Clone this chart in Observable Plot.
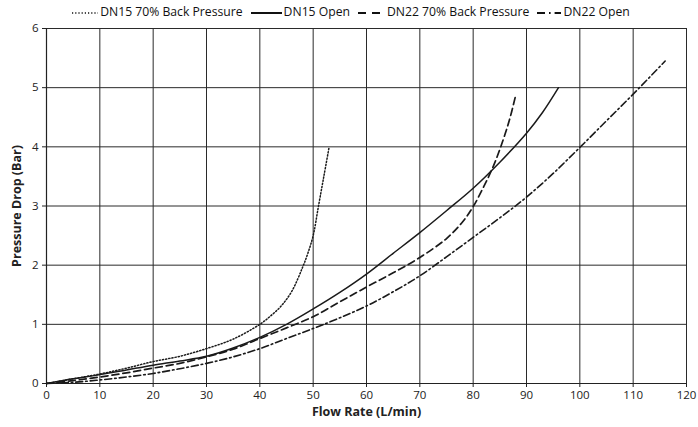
<!DOCTYPE html>
<html>
<head>
<meta charset="utf-8">
<script src="https://cdn.jsdelivr.net/npm/d3@7"></script>
<script src="https://cdn.jsdelivr.net/npm/@observablehq/plot@0.6"></script>
<style>
  html, body { margin: 0; padding: 0; background: #fff; }
  body { width: 698px; height: 427px; overflow: hidden; font-family: "Open Sans", "Noto Sans", sans-serif; color: #111; }
  #legend { height: 20px; display: flex; align-items: center; justify-content: center; font-size: 12.2px; padding-left: 4px; padding-top: 2px; box-sizing: border-box; }
  #legend .item { display: flex; align-items: center; margin: 0 4px; }
  #legend svg { margin-right: 2px; }
  #chart svg { display: block; }
</style>
</head>
<body>
<div id="legend"></div>
<div id="chart"></div>
<script>
// ---- Data ----
const seriesNames = ["DN15 70% Back Pressure", "DN15 Open", "DN22 70% Back Pressure", "DN22 Open"];

const dn15BpFlow = [0, 5, 10, 15, 20, 25, 30, 35, 40, 42, 44, 46, 48, 49, 50, 51, 52, 53];
const dn15BpDrop = [0, 0.08, 0.16, 0.26, 0.37, 0.46, 0.59, 0.75, 1.0, 1.14, 1.31, 1.56, 1.96, 2.2, 2.5, 3.0, 3.5, 4.0];

const dn15OpenFlow = [0, 5, 10, 15, 20, 25, 30, 35, 40, 45, 50, 55, 60, 65, 70, 75, 80, 85, 90, 93, 96];
const dn15OpenDrop = [0, 0.08, 0.15, 0.23, 0.31, 0.38, 0.46, 0.6, 0.78, 1.0, 1.26, 1.54, 1.85, 2.2, 2.55, 2.92, 3.3, 3.74, 4.23, 4.58, 5.0];

const dn22BpFlow = [0, 5, 10, 15, 20, 25, 30, 35, 40, 45, 50, 55, 60, 65, 70, 75, 78, 80, 82, 84, 86, 87, 88];
const dn22BpDrop = [0, 0.05, 0.11, 0.18, 0.26, 0.34, 0.45, 0.58, 0.76, 0.94, 1.13, 1.38, 1.63, 1.87, 2.13, 2.45, 2.73, 2.99, 3.33, 3.72, 4.22, 4.52, 4.88];

const dn22OpenFlow = [0, 5, 10, 15, 20, 25, 30, 35, 40, 45, 50, 55, 60, 65, 70, 75, 80, 85, 90, 95, 100, 105, 110, 116];
const dn22OpenDrop = [0, 0.02, 0.06, 0.11, 0.17, 0.25, 0.34, 0.45, 0.59, 0.76, 0.93, 1.11, 1.31, 1.55, 1.82, 2.14, 2.47, 2.8, 3.15, 3.55, 3.99, 4.44, 4.89, 5.45];

const xTicks = [0, 10, 20, 30, 40, 50, 60, 70, 80, 90, 100, 110, 120];
const yTicks = [0, 1, 2, 3, 4, 5, 6];

// ---- Styles per series ----
const styles = [
  { dash: "1.2,2", width: 1.5 },
  { dash: null, width: 1.5 },
  { dash: "7,4", width: 1.7 },
  { dash: "7,3,1.6,3", width: 1.6 }
];

function zip(flow, drop, name) {
  return flow.map((f, i) => ({ flow: f, drop: drop[i], series: name }));
}
const datasets = [
  zip(dn15BpFlow, dn15BpDrop, seriesNames[0]),
  zip(dn15OpenFlow, dn15OpenDrop, seriesNames[1]),
  zip(dn22BpFlow, dn22BpDrop, seriesNames[2]),
  zip(dn22OpenFlow, dn22OpenDrop, seriesNames[3])
];

// ---- Legend ----
const legend = document.getElementById("legend");
const sampleWidths = [26, 31, 27, 24];
const legendDash = ["1.2,2", null, "8,6", "8,4,1.6,4"];
seriesNames.forEach((name, i) => {
  const item = document.createElement("div");
  item.className = "item";
  const w = sampleWidths[i];
  const st = styles[i];
  item.innerHTML = `<svg width="${w}" height="10"><line x1="0" x2="${w}" y1="7" y2="7" stroke="#111" stroke-width="${st.width + (i === 0 ? 0.2 : 0.5)}" ${legendDash[i] ? `stroke-dasharray="${legendDash[i]}"` : ""}/></svg><span>${name}</span>`;
  legend.appendChild(item);
});

// ---- Chart ----
const marks = [
  Plot.gridX(xTicks, { stroke: "#2a2a2a", strokeOpacity: 1, strokeWidth: 1 }),
  Plot.gridY(yTicks, { stroke: "#2a2a2a", strokeOpacity: 1, strokeWidth: 1 }),
  Plot.axisX({ ticks: xTicks, tickSize: 4, tickPadding: 3, fontSize: 11.5, tickFormat: d => String(d), label: "Flow Rate (L/min)", labelAnchor: "center", labelOffset: 32, labelArrow: "none" }),
  Plot.axisY({ ticks: yTicks, tickSize: 4, tickPadding: 4, fontSize: 11.5, tickFormat: d => String(d), label: "Pressure Drop (Bar)", labelAnchor: "center", labelOffset: 34, labelArrow: "none" }),
  Plot.ruleY([0], { stroke: "#222", strokeWidth: 1.2 }),
  Plot.ruleX([0], { stroke: "#222", strokeWidth: 1.2 })
];
datasets.forEach((data, i) => {
  const st = styles[i];
  const opts = { x: "flow", y: "drop", curve: "catmull-rom", stroke: "#1a1a1a", strokeWidth: st.width };
  if (st.dash) opts.strokeDasharray = st.dash;
  marks.push(Plot.line(data, opts));
});

const chart = Plot.plot({
  width: 698,
  height: 407,
  marginLeft: 46,
  marginRight: 12,
  marginTop: 8,
  marginBottom: 44,
  style: { fontFamily: "'Open Sans', 'Noto Sans', sans-serif", color: "#222", background: "#fff", overflow: "visible" },
  x: { domain: [0, 120] },
  y: { domain: [0, 6] },
  marks
});
document.getElementById("chart").appendChild(chart);

// Bold axis titles
chart.querySelectorAll('[aria-label="x-axis label"], [aria-label="y-axis label"]').forEach(g => {
  g.setAttribute("font-weight", "bold");
  g.setAttribute("font-size", "12.5");
  g.querySelectorAll("text").forEach(t => { t.style.fontWeight = "bold"; t.style.fontSize = "12.5px"; });
});
</script>
</body>
</html>
